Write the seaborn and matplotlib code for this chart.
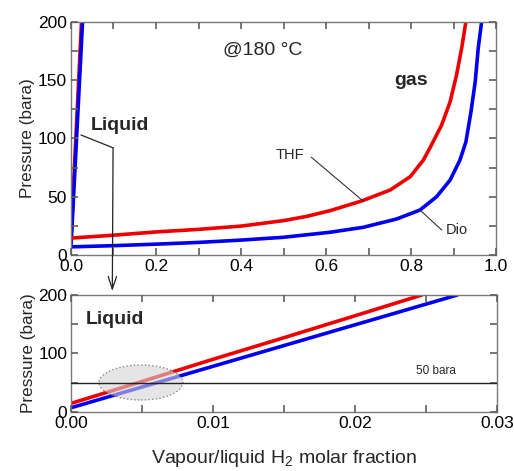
import numpy as np
import pandas as pd
import matplotlib
matplotlib.use("Agg")
import matplotlib.pyplot as plt
from matplotlib.patches import Ellipse
from matplotlib.ticker import MultipleLocator, FormatStrFormatter
import seaborn as sns

# ---------------- data ----------------
# Liquid branch (bubble line) : H2 fraction in liquid vs pressure
thf_liq_x = [0.0, 0.005, 0.010, 0.015, 0.020, 0.0247]
thf_liq_p = [14.5, 52.0, 90.0, 127.0, 164.5, 200.0]
dio_liq_x = [0.0, 0.005, 0.010, 0.015, 0.020, 0.0272]
dio_liq_p = [7.0, 42.5, 78.0, 113.5, 149.0, 200.0]

# Gas branch (dew line) : H2 fraction in vapour vs pressure
thf_gas_x = [0.0, 0.1, 0.2, 0.3, 0.4, 0.5, 0.555, 0.609, 0.684, 0.751, 0.798,
             0.829, 0.846, 0.872, 0.892, 0.907, 0.919, 0.929]
thf_gas_p = [14.5, 17.0, 19.8, 22.0, 24.8, 29.5, 33.2, 38.0, 46.4, 55.8, 67.2,
             81.5, 93.0, 111.6, 131.6, 154.5, 177.4, 200.0]
dio_gas_x = [0.0, 0.1, 0.2, 0.3, 0.4, 0.5, 0.609, 0.688, 0.766, 0.821, 0.86,
             0.892, 0.915, 0.929, 0.941, 0.951, 0.958, 0.966]
dio_gas_p = [7.0, 8.0, 9.3, 10.8, 12.8, 15.2, 19.5, 23.8, 30.9, 38.6, 50.0,
             64.4, 81.5, 97.0, 123.0, 148.8, 177.4, 200.0]

solvents = ["THF", "Dio"]
colors = {"THF": "#ee0000", "Dio": "#0000ee"}
ref_pressure = 50
top_xticks = [0.0, 0.2, 0.4, 0.6, 0.8, 1.0]
top_yticks = [0, 50, 100, 150, 200]
bot_xticks = [0.00, 0.01, 0.02, 0.03]
bot_yticks = [0, 100, 200]

liq = pd.concat([
    pd.DataFrame({"x": thf_liq_x, "p": thf_liq_p, "solvent": "THF"}),
    pd.DataFrame({"x": dio_liq_x, "p": dio_liq_p, "solvent": "Dio"}),
])
gas = pd.concat([
    pd.DataFrame({"x": thf_gas_x, "p": thf_gas_p, "solvent": "THF"}),
    pd.DataFrame({"x": dio_gas_x, "p": dio_gas_p, "solvent": "Dio"}),
])

# ---------------- style ----------------
spine_col = "#5f5f5f"
sns.set_style("ticks")
plt.rcParams.update({
    "font.family": ["Liberation Sans", "DejaVu Sans"],
    "mathtext.default": "regular",
    "xtick.direction": "in", "ytick.direction": "in",
    "xtick.top": True, "ytick.right": True,
    "xtick.major.size": 5, "ytick.major.size": 5,
    "xtick.minor.size": 5, "ytick.minor.size": 5,
    "xtick.major.width": 1.2, "ytick.major.width": 1.2,
    "xtick.minor.width": 1.2, "ytick.minor.width": 1.2,
    "xtick.color": spine_col, "ytick.color": spine_col,
    "xtick.labelcolor": "black", "ytick.labelcolor": "black",
})

fig = plt.figure(figsize=(5.14, 4.71), dpi=100)
ax1 = fig.add_axes([0.1381, 0.4586, 0.827, 0.4947])
ax2 = fig.add_axes([0.1391, 0.1259, 0.828, 0.2478])

lw = 2.6
for ax in (ax1, ax2):
    sns.lineplot(data=liq, x="x", y="p", hue="solvent", palette=colors,
                 hue_order=solvents, estimator=None, sort=False, lw=lw,
                 legend=False, ax=ax)
sns.lineplot(data=gas, x="x", y="p", hue="solvent", palette=colors,
             hue_order=solvents, estimator=None, sort=False, lw=lw,
             legend=False, ax=ax1)

ax1.set_xlim(0, 1.0)
ax1.set_ylim(0, 200)
ax1.set_xticks(top_xticks)
ax1.set_yticks(top_yticks)
ax1.xaxis.set_minor_locator(MultipleLocator(0.1))
ax1.yaxis.set_minor_locator(MultipleLocator(25))
ax1.xaxis.set_major_formatter(FormatStrFormatter("%.1f"))
ax1.set_xlabel("")
ax1.set_ylabel("Pressure (bara)", fontsize=12.3, labelpad=2)

ax2.set_xlim(0, 0.03)
ax2.set_ylim(0, 200)
ax2.set_xticks(bot_xticks)
ax2.set_yticks(bot_yticks)
ax2.xaxis.set_minor_locator(MultipleLocator(0.005))
ax2.yaxis.set_minor_locator(MultipleLocator(50))
ax2.xaxis.set_major_formatter(FormatStrFormatter("%.2f"))
ax2.set_ylabel("Pressure (bara)", fontsize=12.3, labelpad=2)
ax2.set_xlabel("Vapour/liquid H$_2$ molar fraction", fontsize=14, labelpad=12)

for ax in (ax1, ax2):
    ax.set_axisbelow(False)
    for s in ax.spines.values():
        s.set_visible(True)
        s.set_color("#7a7a7a")
        s.set_linewidth(1.0)
    ax.tick_params(which="both", direction="in", top=True, right=True,
                   bottom=True, left=True, colors=spine_col,
                   labelcolor="black", length=5, width=1.2)
    ax.tick_params(which="major", labelsize=12.5, pad=3)

# ---------------- annotations, top panel ----------------
ax1.text(0.452, 176, "@180 °C", fontsize=14, ha="center", va="center")
ax1.text(0.80, 150, "gas", fontsize=14, fontweight="bold", ha="center", va="center")
ax1.text(0.115, 111, "Liquid", fontsize=14, fontweight="bold", ha="center", va="center")
ax1.text(0.515, 86, "THF", fontsize=10.5, ha="center", va="center")
ax1.plot([0.565, 0.687], [84, 46.4], color="#333333", lw=0.8)
ax1.text(0.907, 21.5, "Dio", fontsize=10.5, ha="center", va="center")
ax1.plot([0.872, 0.821], [21.5, 38.6], color="#333333", lw=0.8)

# Liquid pointer line and arrow down to the zoomed panel
ax1.plot([0.0235, 0.099], [103, 92], color="#222222", lw=0.9, clip_on=False)
ax1.annotate("", xy=(0.2185, 1 - 291 / 471), xycoords="figure fraction",
             xytext=(0.099, 92), textcoords="data",
             arrowprops=dict(arrowstyle="->,head_length=0.9,head_width=0.3",
                             color="#222222", lw=0.9, shrinkA=0, shrinkB=0),
             annotation_clip=False)

# ---------------- annotations, bottom panel ----------------
ax2.axhline(ref_pressure, color="#222222", lw=1.0, zorder=5)
ax2.text(0.0257, 70, "50 bara", fontsize=8.5, ha="center", va="center")
ax2.text(0.0010, 158, "Liquid", fontsize=14, fontweight="bold", ha="left", va="center")
ell = Ellipse((0.0049, 50), width=0.0059, height=60, facecolor="#d4d4d4",
              edgecolor="#444444", linestyle=":", lw=1.0, alpha=0.6, zorder=4)
ax2.add_patch(ell)

# make sure every tick mark is drawn (after a first layout pass)
fig.canvas.draw()
for ax in (ax1, ax2):
    for axis in (ax.xaxis, ax.yaxis):
        for t in axis.get_major_ticks() + axis.get_minor_ticks():
            for ln in (t.tick1line, t.tick2line):
                ln.set_visible(True)
                ln.set_color(spine_col)
                ln.set_markersize(5)
                ln.set_markeredgewidth(1.2)
                ln.set_zorder(10)

fig.savefig("out.png", dpi=100)
